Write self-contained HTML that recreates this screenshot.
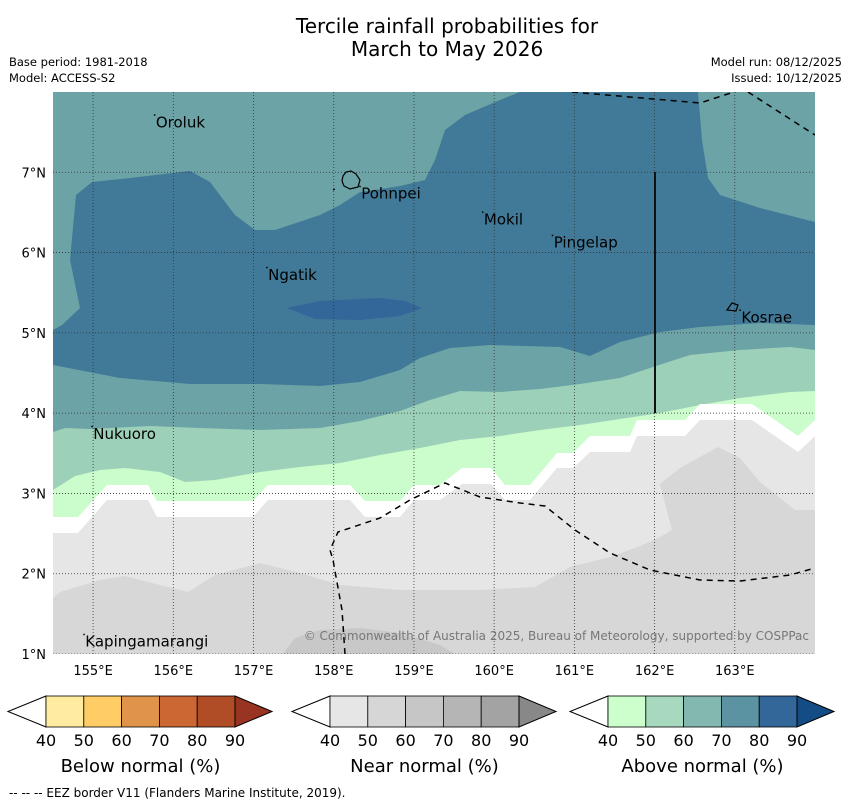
<!DOCTYPE html>
<html><head><meta charset="utf-8">
<style>
body{margin:0;background:#fff;width:850px;height:804px;overflow:hidden;font-family:"Liberation Sans","DejaVu Sans",sans-serif}
svg{display:block}
text{font-family:"DejaVu Sans","Liberation Sans",sans-serif}
</style></head><body>
<svg id="chart" width="850" height="804" viewBox="0 0 850 804">
<text x="447" y="33" font-size="20" text-anchor="middle">Tercile rainfall probabilities for</text>
<text x="447" y="56" font-size="20" text-anchor="middle">March to May 2026</text>
<text x="9" y="66" font-size="11.5">Base period: 1981-2018</text>
<text x="9" y="82" font-size="11.5">Model: ACCESS-S2</text>
<text x="842" y="66" font-size="11.5" text-anchor="end">Model run: 08/12/2025</text>
<text x="842" y="82" font-size="11.5" text-anchor="end">Issued: 10/12/2025</text>
<defs><clipPath id="mc"><rect x="53" y="92" width="762" height="562"/></clipPath></defs>
<g clip-path="url(#mc)">
<rect x="53" y="92" width="762" height="562" fill="#6ca3a6"/>
<path fill="#417a98" d="M53,330 L62,325 L80,308 L70,260 L76,195 L92,182 L130,178 L190,171 L210,182 L235,215 L255,230 L275,230 L320,215 L340,205 L360,192 L400,186 L425,180 L435,160 L445,130 L465,115 L500,100 L520,92 L698,92 L702,140 L708,178 L720,195 L760,208 L815,222 L815,325 L760,323 L700,327 L660,332 L620,342 L590,356 L560,347 L490,345 L450,348 L420,358 L400,370 L360,382 L320,386 L260,384 L190,384 L120,378 L53,365 Z"/>
<path fill="#336699" d="M287,308 L320,301 L380,298 L405,301 L422,308 L400,316 L360,320 L315,319 Z"/>
<path fill="#9dd0b8" d="M53,432 L65,428 L90,429 L150,426 L200,428 L260,430 L320,428 L360,421 L400,411 L430,400 L460,391 L500,392 L540,389 L580,384 L620,378 L650,368 L690,355 L740,350 L790,347 L815,350 L815,654 L53,654 Z"/>
<path fill="#cbfccb" d="M53,490 L75,476 L100,470 L125,468 L160,472 L185,482 L215,480 L260,472 L300,467 L340,463 L380,455 L420,448 L460,440 L500,436 L540,430 L580,425 L620,419 L660,413 L700,405 L740,398 L790,392 L815,391 L815,654 L53,654 Z"/>
<path fill="#ffffff" d="M53,517 L78,517 L107,485 L148,485 L157,501 L253,501 L268,485 L350,485 L365,501 L400,501 L414,485 L440,485 L462,468 L491,468 L505,485 L530,485 L557,453 L573,453 L590,436 L630,436 L637,420 L685,420 L700,404 L752,404 L798,436 L815,420 L815,654 L53,654 Z"/>
<path fill="#e6e6e6" d="M53,533 L78,533 L107,500 L148,500 L157,517 L253,517 L268,500 L350,500 L365,517 L400,517 L414,500 L440,500 L462,484 L491,484 L505,500 L530,500 L557,468 L573,468 L590,452 L630,452 L637,436 L685,436 L700,420 L752,420 L798,452 L815,436 L815,654 L53,654 Z"/>
<path fill="#d7d7d7" d="M53,598 L60,592 L100,580 L125,576 L160,585 L188,592 L215,575 L260,563 L300,573 L340,585 L400,590 L480,590 L535,587 L570,567 L610,557 L640,546 L660,537 L672,530 L660,484 L680,468 L718,447 L740,458 L760,482 L795,510 L815,510 L815,654 L53,654 Z"/>
<path fill="#c8c8c8" d="M283,654 L295,638 L320,630 L360,628 L400,633 L440,645 L455,654 Z"/>
<g id="grid"></g>
<path d="M572,92 L700,103 L740,90 M748,92 L815,135" fill="none" stroke="#000" stroke-width="1.5" stroke-dasharray="6,5"/>
<path d="M345,654 L342,610 L333,560 L330,550 L338,532 L380,518 L410,500 L445,483 L480,497 L520,503 L545,506 L575,530 L610,553 L650,570 L700,580 L740,581 L790,575 L815,568" fill="none" stroke="#000" stroke-width="1.5" stroke-dasharray="6,5"/>
<line x1="655" y1="172" x2="655" y2="413" stroke="#111" stroke-width="2"/>
<path d="M343,176 L346,172 L351,171 L356,174 L360,180 L358,187 L350,189 L344,186 L342,181 Z M333,190 L335,189" fill="none" stroke="#000" stroke-width="1.2"/>
<path d="M727,310 L732,303 L738,305 L736,311 Z" fill="none" stroke="#000" stroke-width="1.2"/>
<g id="places"></g>
<text x="809" y="640" font-size="12" fill="#777" text-anchor="end">© Commonwealth of Australia 2025, Bureau of Meteorology, supported by COSPPac</text>
</g>
<g id="axes"></g>
<g id="cbars"></g>
<text x="9" y="797" font-size="12">--  --  -- EEZ border V11 (Flanders Marine Institute, 2019).</text>
</svg>
<script>
const lonTicks=[155,156,157,158,159,160,161,162,163];
const latTicks=[1,2,3,4,5,6,7];
const placeNames=["Oroluk","Pohnpei","Mokil","Pingelap","Ngatik","Kosrae","Nukuoro","Kapingamarangi"];
const placeLon=[155.77,158.33,159.86,160.73,157.17,163.07,154.99,154.89];
const placeLat=[7.71,6.82,6.50,6.21,5.81,5.28,3.83,1.24];
const cbTicks=[40,50,60,70,80,90];
const belowColors=["#ffeca0","#ffcc66","#e0944a","#cc6633","#b04c26","#993322"];
const nearColors=["#e6e6e6","#d6d6d6","#c6c6c6","#b5b5b5","#a3a3a3","#888888"];
const aboveColors=["#ccffcc","#a6d9bd","#82b8b0","#5b93a3","#336699","#144d85"];
const cbTitles=["Below normal (%)","Near normal (%)","Above normal (%)"];

const NS="http://www.w3.org/2000/svg";
const X0=53,X1=815,Y0=92,Y1=654,LON0=154.5,LON1=164.0,LAT0=1.0,LAT1=8.0;
const xs=lon=>X0+(lon-LON0)/(LON1-LON0)*(X1-X0);
const ys=lat=>Y1-(lat-LAT0)/(LAT1-LAT0)*(Y1-Y0);
function mk(tag,attrs,parent){const e=document.createElementNS(NS,tag);for(const k in attrs)e.setAttribute(k,attrs[k]);parent.appendChild(e);return e;}
const grid=document.getElementById('grid'),axes=document.getElementById('axes');
lonTicks.forEach(l=>{
  const g=mk('line',{x1:xs(l),x2:xs(l),y1:Y0,y2:Y1,stroke:'#333','stroke-width':0.8,'stroke-dasharray':'1,2'},grid);
  
  
  const t=mk('text',{x:xs(l),y:Y1+21,'font-size':13,'text-anchor':'middle'},axes);t.textContent=l+'°E';
  
  
});
latTicks.forEach(l=>{
  const g=mk('line',{x1:X0,x2:X1,y1:ys(l),y2:ys(l),stroke:'#333','stroke-width':0.8,'stroke-dasharray':'1,2'},grid);
  
  
  const t=mk('text',{x:X0-7,y:ys(l)+5,'font-size':13,'text-anchor':'end'},axes);t.textContent=l+'°N';
  
  
});
const places=document.getElementById('places');
placeNames.forEach((n,i)=>{
  const x=xs(placeLon[i]),y=ys(placeLat[i]);
  const d=mk('rect',{x:x-1,y:y-1,width:1.5,height:1.5,fill:'#000'},places);
  
  
  const t=mk('text',{x:x+1,y:y+12,'font-size':15},places);t.textContent=n;
  
  
});
const cb=document.getElementById('cbars');
[[8,46,belowColors],[292,330,nearColors],[570,608,aboveColors]].forEach(([tip,x0,cols],k)=>{
  const w=37.8,yt=696,yb=727,ym=711.5,xe=x0+5*w;
  const lt=mk('path',{d:`M${x0},${yt} L${tip},${ym} L${x0},${yb} Z`,fill:'#fff',stroke:'#000','stroke-width':1},cb);
  
  
  for(let i=0;i<5;i++){
    const r=mk('rect',{x:x0+i*w,y:yt,width:w,height:yb-yt,fill:cols[i],stroke:'#000','stroke-width':0.8},cb);
    
    
  }
  const rt=mk('path',{d:`M${xe},${yt} L${xe+37},${ym} L${xe},${yb} Z`,fill:cols[5],stroke:'#000','stroke-width':1},cb);
  
  
  cbTicks.forEach((v,i)=>{
    const t=mk('text',{x:x0+i*w,y:746,'font-size':16,'text-anchor':'middle'},cb);t.textContent=v;
    
    
  });
  const tt=mk('text',{x:x0+2.5*w,y:772,'font-size':18,'text-anchor':'middle'},cb);tt.textContent=cbTitles[k];
  
  
});
</script>
</body></html>
